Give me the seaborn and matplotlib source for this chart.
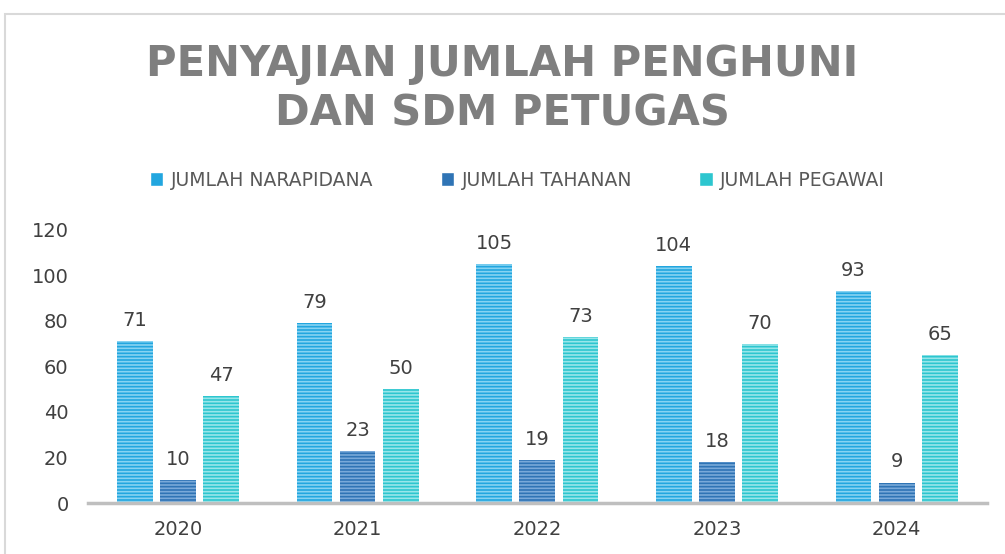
import matplotlib
matplotlib.use("Agg")
import matplotlib.pyplot as plt
from matplotlib.patches import Rectangle
import pandas as pd
import seaborn as sns

years = ["2020", "2021", "2022", "2023", "2024"]
series_names = ["JUMLAH NARAPIDANA", "JUMLAH TAHANAN", "JUMLAH PEGAWAI"]
narapidana = [71, 79, 105, 104, 93]
tahanan = [10, 23, 19, 18, 9]
pegawai = [47, 50, 73, 70, 65]

base_colors = ["#22A6DF", "#2F74B5", "#2DC6CF"]
stripe_colors = ["#86D3F2", "#79A9D9", "#98E6EA"]

df = pd.DataFrame({
    "year": years * 3,
    "series": [s for s in series_names for _ in years],
    "value": narapidana + tahanan + pegawai,
})

sns.set_theme(style="white")
plt.rcParams["font.family"] = ["DejaVu Sans"]
plt.rcParams["hatch.linewidth"] = 1.2

fig = plt.figure(figsize=(10.05, 5.54), dpi=100)
ax = fig.add_axes([0.0876, 0.092, 0.894, 0.493])

sns.barplot(data=df, x="year", y="value", hue="series", hue_order=series_names,
            palette=base_colors, width=0.72, gap=0.17, ax=ax, legend=True,
            saturation=1)

for cont, stripe in zip(ax.containers, stripe_colors):
    for bar in cont:
        bar.set_hatch("-----")
        bar.set_edgecolor(stripe)
        bar.set_linewidth(0)
    ax.bar_label(cont, padding=8, fontsize=14, color="#404040")

ax.set_ylim(0, 120)
ax.set_xlim(-0.5, 4.5)
ax.set_yticks(range(0, 121, 20))
ax.set_xlabel("")
ax.set_ylabel("")
ax.tick_params(axis="y", length=0, pad=14, labelsize=14, labelcolor="#404040")
ax.tick_params(axis="x", length=0, pad=12, labelsize=14, labelcolor="#404040")
for side in ["left", "right", "top"]:
    ax.spines[side].set_visible(False)
ax.spines["bottom"].set_color("#BFBFBF")
ax.spines["bottom"].set_linewidth(2.5)

handles, labels = ax.get_legend_handles_labels()
ax.legend_.remove()
fig.legend(handles, labels, loc="center", bbox_to_anchor=(0.515, 0.675), ncol=3,
           frameon=False, fontsize=13.5, labelcolor="#595959",
           handlelength=0.7, handleheight=0.7, handletextpad=0.4,
           columnspacing=3.6)

fig.text(0.5, 0.885, "PENYAJIAN JUMLAH PENGHUNI", ha="center", va="center",
         fontsize=30, fontweight="bold", color="#7F7F7F")
fig.text(0.5, 0.795, "DAN SDM PETUGAS", ha="center", va="center",
         fontsize=30, fontweight="bold", color="#7F7F7F")

fig.patches.append(Rectangle((5 / 1005, -0.1), 1.2, (554 - 14) / 554 + 0.1,
                             transform=fig.transFigure, fill=False,
                             edgecolor="#D9D9D9", linewidth=1.5))

fig.savefig("out.png", dpi=100)
